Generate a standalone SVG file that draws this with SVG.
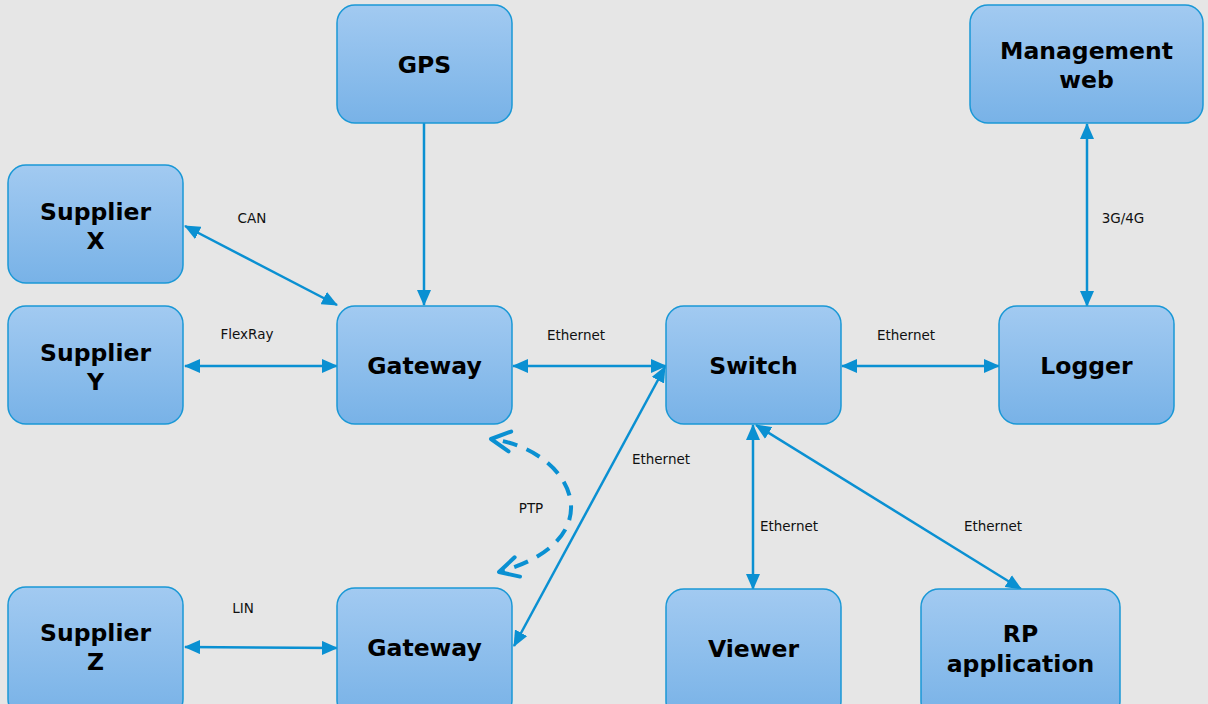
<svg xmlns="http://www.w3.org/2000/svg" width="1208" height="704" viewBox="0 0 1208 704">
<defs>
<linearGradient id="nodeFill" x1="0" y1="0" x2="0" y2="1">
<stop offset="0" stop-color="#a2caf1"/>
<stop offset="1" stop-color="#78b2e7"/>
</linearGradient>
<marker id="arr" viewBox="0 0 16 14" refX="15" refY="7" markerWidth="16" markerHeight="14" markerUnits="userSpaceOnUse" orient="auto-start-reverse">
<path d="M0,0 L16,7 L0,14 Z" fill="#0a90d2"/>
</marker>
<marker id="chev" viewBox="0 0 26 26" refX="22" refY="13" markerWidth="26" markerHeight="26" markerUnits="userSpaceOnUse" orient="auto-start-reverse">
<path d="M3,3 L22,13 L3,23" fill="none" stroke="#0a90d2" stroke-width="4" stroke-linecap="round" stroke-linejoin="round"/>
</marker>
</defs>
<style>
.node rect{fill:url(#nodeFill);stroke:#1a98d6;stroke-width:1.5}
.node text{font-family:"DejaVu Sans",Verdana,sans-serif;font-weight:bold;font-size:23.5px;fill:#000;text-anchor:middle}
.edge{fill:none;stroke:#0a90d2;stroke-width:2.5}
.lbl{font-family:"DejaVu Sans",Verdana,sans-serif;font-size:13.5px;fill:#111;text-anchor:middle}
</style>
<rect width="1208" height="704" fill="#e6e6e6"/>
<g id="connectors">
<line class="edge" x1="424" y1="123" x2="424" y2="305" marker-end="url(#arr)"/>
<line class="edge" x1="185" y1="226" x2="337" y2="305" marker-start="url(#arr)" marker-end="url(#arr)"/>
<line class="edge" x1="185" y1="366" x2="337" y2="366" marker-start="url(#arr)" marker-end="url(#arr)"/>
<line class="edge" x1="513" y1="366" x2="666" y2="366" marker-start="url(#arr)" marker-end="url(#arr)"/>
<line class="edge" x1="842" y1="366" x2="999" y2="366" marker-start="url(#arr)" marker-end="url(#arr)"/>
<line class="edge" x1="1087" y1="124" x2="1087" y2="306" marker-start="url(#arr)" marker-end="url(#arr)"/>
<line class="edge" x1="665" y1="367" x2="514" y2="646" marker-start="url(#arr)" marker-end="url(#arr)"/>
<line class="edge" x1="753" y1="425" x2="753" y2="589" marker-start="url(#arr)" marker-end="url(#arr)"/>
<line class="edge" x1="756" y1="425" x2="1021" y2="589" marker-start="url(#arr)" marker-end="url(#arr)"/>
<line class="edge" x1="185" y1="647" x2="337" y2="648" marker-start="url(#arr)" marker-end="url(#arr)"/>
<path d="M491,439 C575,450 615,540 499,572" fill="none" stroke="#0a90d2" stroke-width="4" stroke-dasharray="15,10" stroke-dashoffset="-12" marker-start="url(#chev)" marker-end="url(#chev)"/>
<text class="lbl" x="252" y="223">CAN</text>
<text class="lbl" x="247" y="339">FlexRay</text>
<text class="lbl" x="576" y="340">Ethernet</text>
<text class="lbl" x="906" y="340">Ethernet</text>
<text class="lbl" x="1123" y="223">3G/4G</text>
<text class="lbl" x="661" y="464">Ethernet</text>
<text class="lbl" x="531" y="513">PTP</text>
<text class="lbl" x="789" y="531">Ethernet</text>
<text class="lbl" x="993" y="531">Ethernet</text>
<text class="lbl" x="243" y="613">LIN</text>
</g>
<g id="gps" class="node"><rect x="337" y="5" width="175" height="118" rx="18"/><text x="424.5" y="73">GPS</text></g>
<g id="management-web" class="node"><rect x="970" y="5" width="233" height="118" rx="18"/><text x="1086.5" y="59">Management</text><text x="1086.5" y="88">web</text></g>
<g id="supplier-x" class="node"><rect x="8" y="165" width="175" height="118" rx="18"/><text x="95.5" y="220">Supplier</text><text x="95.5" y="249">X</text></g>
<g id="supplier-y" class="node"><rect x="8" y="306" width="175" height="118" rx="18"/><text x="95.5" y="361">Supplier</text><text x="95.5" y="390">Y</text></g>
<g id="gateway-1" class="node"><rect x="337" y="306" width="175" height="118" rx="18"/><text x="424.5" y="374">Gateway</text></g>
<g id="switch" class="node"><rect x="666" y="306" width="175" height="118" rx="18"/><text x="753.5" y="374">Switch</text></g>
<g id="logger" class="node"><rect x="999" y="306" width="175" height="118" rx="18"/><text x="1086.5" y="374">Logger</text></g>
<g id="supplier-z" class="node"><rect x="8" y="587" width="175" height="130" rx="18"/><text x="95.5" y="641">Supplier</text><text x="95.5" y="670">Z</text></g>
<g id="gateway-2" class="node"><rect x="337" y="588" width="175" height="130" rx="18"/><text x="424.5" y="656">Gateway</text></g>
<g id="viewer" class="node"><rect x="666" y="589" width="175" height="130" rx="18"/><text x="753.5" y="657">Viewer</text></g>
<g id="rp-application" class="node"><rect x="921" y="589" width="199" height="130" rx="18"/><text x="1020.5" y="642">RP</text><text x="1020.5" y="672">application</text></g>
</svg>
